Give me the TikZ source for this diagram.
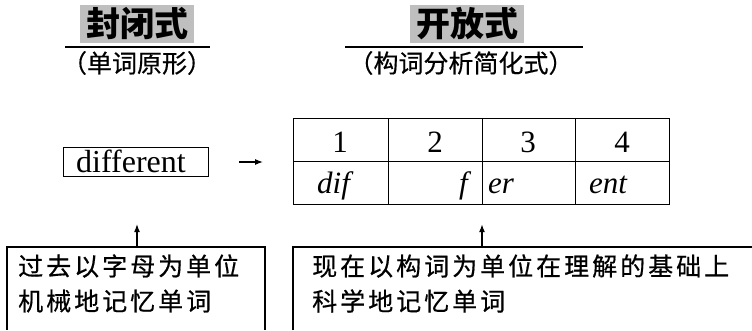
\documentclass[tikz,border=0pt]{standalone}
\usepackage{fontspec}
\setmainfont{Liberation Serif}
\newfontfamily\cjk{Noto Sans CJK SC}
\newfontfamily\cjkls[LetterSpace=12,FakeBold=0.6]{Noto Sans CJK SC}
\newfontfamily\cjksub[FakeBold=0.4]{Noto Sans CJK SC}
\usetikzlibrary{arrows.meta}
\begin{document}
\begin{tikzpicture}[x=1pt,y=-1pt,
  ln/.style={line width=1.2pt},
  arr/.style={ln,-{Latex[length=8pt,width=6pt]}},
  title/.style={fill=gray!50, inner sep=0pt, minimum width=114pt, minimum height=38pt, font=\cjk\bfseries\fontsize{34}{36}\selectfont},
  sub/.style={inner sep=0pt, font=\cjksub\fontsize{25}{28}\selectfont},
  cell/.style={draw, ln, minimum height=43pt, inner sep=0pt, anchor=north west},
  num/.style={inner sep=0pt, anchor=base, font=\fontsize{31}{32}\selectfont},
  ital/.style={inner sep=0pt, anchor=base, font=\itshape\fontsize{31}{32}\selectfont},
  note/.style={font=\cjkls\fontsize{25}{28}\selectfont, anchor=west, inner sep=0pt}]
\useasboundingbox (0,0) rectangle (752,330);
% titles
\node[title] (t1) at (137,24) {封闭式};
\node[title] (t2) at (467,24) {开放式};
\coordinate (u1a) at (65,47);
\coordinate (u1b) at (210,47);
\coordinate (u2a) at (345,47);
\coordinate (u2b) at (583,47);
\draw[ln] (u1a) -- (u1b);
\draw[ln] (u2a) -- (u2b);
\node[sub] (s1) at (137,63) {（单词原形）};
\node[sub] (s2) at (461,63) {（构词分析简化式）};
% different box
\node[draw, ln, minimum width=145pt, minimum height=29pt, inner sep=0pt] (diff) at (136,162) {};
\node[inner sep=0pt, anchor=base, font=\fontsize{32}{33}\selectfont] (dtxt) at (131,172) {different};
% table
\node[cell, minimum width=95pt] (c1) at (293,118) {};
\node[cell, minimum width=94pt] (c2) at (388,118) {};
\node[cell, minimum width=93pt] (c3) at (482,118) {};
\node[cell, minimum width=94pt] (c4) at (575,118) {};
\node[cell, minimum width=95pt] (d1) at (293,161) {};
\node[cell, minimum width=94pt] (d2) at (388,161) {};
\node[cell, minimum width=93pt] (d3) at (482,161) {};
\node[cell, minimum width=94pt] (d4) at (575,161) {};
\node[num] (n1) at (340,152) {1};
\node[num] (n2) at (435,152) {2};
\node[num] (n3) at (528,152) {3};
\node[num] (n4) at (622,152) {4};
\node[ital, anchor=base west] (p1) at (317,193) {dif};
\node[ital, anchor=base east] (p2) at (468,193) {f};
\node[ital, anchor=base west] (p3) at (488,193) {er};
\node[ital, anchor=base west] (p4) at (589,193) {ent};
% arrow to table
\draw[arr, shorten <=30pt, shorten >=30pt] (diff.east) -- (c1.south west |- diff.east);
% bottom boxes
\coordinate (la) at (7,330);
\coordinate (lb) at (7,247);
\coordinate (lc) at (265,247);
\coordinate (ld) at (265,330);
\draw[ln] (la) -- (lb) -- (lc) -- (ld);
\coordinate (ra) at (293,330);
\coordinate (rb) at (293,247);
\coordinate (rc) at (752,247);
\draw[ln] (ra) -- (rb) -- (rc);
\coordinate (lt) at (137,247);
\coordinate (rt) at (482,247);
\draw[arr, shorten >=47pt] (lt) -- (lt |- diff.south);
\draw[arr, shorten >=19pt] (rt) -- (d3.south west);
\node[note] (l1) at (18,266) {过去以字母为单位};
\node[note] (l2) at (18,301) {机械地记忆单词};
\node[note] (r1) at (312,266) {现在以构词为单位在理解的基础上};
\node[note] (r2) at (312,301) {科学地记忆单词};
\end{tikzpicture}
\end{document}
